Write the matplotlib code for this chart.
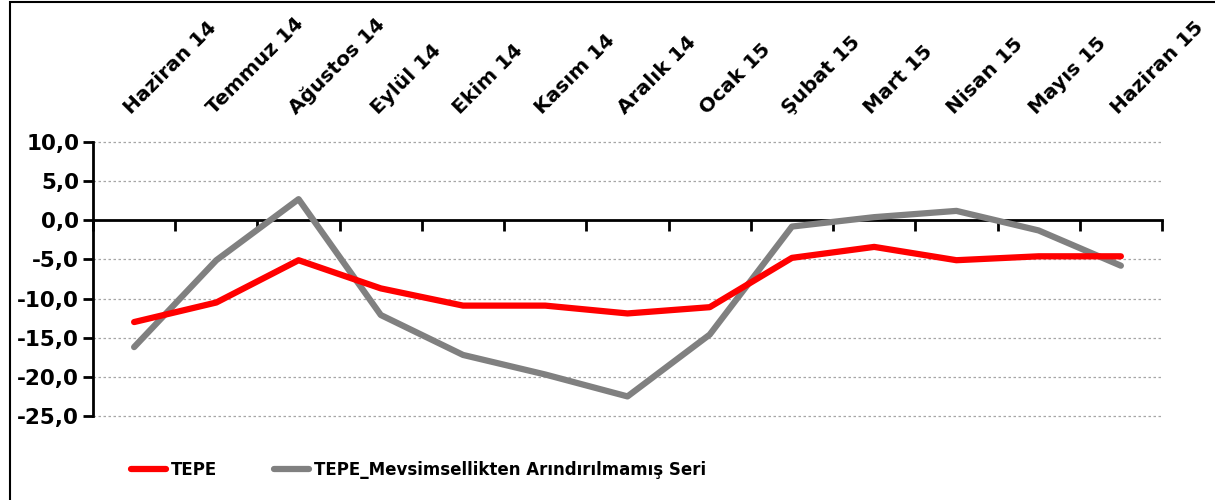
import matplotlib.pyplot as plt
import matplotlib.patches as mpatches
from matplotlib.ticker import FuncFormatter
import numpy as np

# Aylar ve seriler
months = ["Haziran 14", "Temmuz 14", "Ağustos 14", "Eylül 14", "Ekim 14",
          "Kasım 14", "Aralık 14", "Ocak 15", "Şubat 15", "Mart 15",
          "Nisan 15", "Mayıs 15", "Haziran 15"]
tepe = [-13.0, -10.5, -5.1, -8.7, -10.9, -10.9, -11.9, -11.1,
        -4.8, -3.4, -5.1, -4.6, -4.6]
tepe_raw = [-16.2, -5.1, 2.7, -12.1, -17.2, -19.7, -22.5, -14.6,
            -0.8, 0.4, 1.2, -1.3, -5.8]
yticks = [10, 5, 0, -5, -10, -15, -20, -25]

# tek font ailesi: DejaVu Sans (kalin)
plt.rcParams['font.family'] = 'DejaVu Sans'
plt.rcParams['font.weight'] = 'bold'

fig = plt.figure(figsize=(12.15, 5.0), dpi=100)
ax = fig.add_axes([93/1215, 1 - 416/500, (1162 - 93)/1215, (416 - 142)/500])

x = np.arange(len(months))
ax.plot(x, tepe, color='#FF0000', lw=4.5, solid_capstyle='round',
        label='TEPE', zorder=4)
ax.plot(x, tepe_raw, color='#808080', lw=4.5, solid_capstyle='round',
        label='TEPE_Mevsimsellikten Arındırılmamış Seri', zorder=3)

ax.set_xlim(-0.5, len(months) - 0.5)
ax.set_ylim(-25, 10)

# y axis
ax.set_yticks(yticks)
ax.yaxis.set_major_formatter(FuncFormatter(lambda v, p: f"{v:.1f}".replace('.', ',')))
ax.tick_params(axis='y', direction='out', length=7, width=2, labelsize=15.5, pad=3)
ax.grid(axis='y', linestyle=(0, (2, 2)), color='#A6A6A6', lw=0.9, zorder=0)
for gl in ax.get_ygridlines():
    gl.set_clip_on(False)

# x axis: line at zero, tick marks between categories, labels on top
ax.spines['bottom'].set_position(('data', 0))
ax.spines['bottom'].set_linewidth(2)
ax.spines['bottom'].set_zorder(2)
ax.spines['left'].set_linewidth(2)
ax.spines['top'].set_visible(False)
ax.spines['right'].set_visible(False)

ax.set_xticks(x)
ax.set_xticklabels(months, rotation=45, ha='left', va='bottom',
                   rotation_mode='anchor', fontsize=14.5)
ax.set_xticks(np.arange(-0.5, len(months)), minor=True)
ax.tick_params(axis='x', which='major', bottom=False, top=False,
               labelbottom=False, labeltop=True, pad=14)
ax.tick_params(axis='x', which='minor', bottom=True, top=False,
               direction='out', length=8, width=2)

leg = ax.legend(loc='center left', bbox_to_anchor=(116/1215, 1 - 470/500),
                bbox_transform=fig.transFigure, ncol=2, frameon=False,
                handlelength=2.1, handletextpad=0.3, columnspacing=3.4,
                prop={'size': 12, 'weight': 'bold'})

# outer frame
fig.patches.append(mpatches.Rectangle((10/1215, -0.1), 1.2, 1.1 - 2/500,
                                      transform=fig.transFigure, fill=False,
                                      edgecolor='black', lw=1.5))

fig.savefig('out.png', dpi=100)
